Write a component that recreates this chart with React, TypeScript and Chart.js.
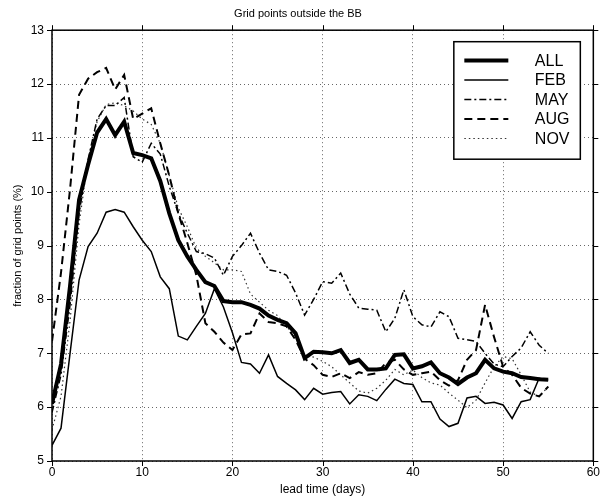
import React, { useEffect, useRef } from "react";
import { Chart, registerables } from "chart.js";

Chart.register(...registerables);

const days = [0,1,2,3,4,5,6,7,8,9,10,11,12,13,14,15,16,17,18,19,20,21,22,23,24,25,26,27,28,29,30,31,32,33,34,35,36,37,38,39,40,41,42,43,44,45,46,47,48,49,50,51,52,53,54,55];

const allSeries = [6.06,6.8,8.25,9.85,10.5,11.1,11.35,11.05,11.3,10.72,10.68,10.62,10.2,9.6,9.1,8.8,8.55,8.32,8.25,7.97,7.95,7.95,7.9,7.83,7.7,7.62,7.56,7.37,6.91,7.03,7.02,7.0,7.06,6.82,6.88,6.7,6.7,6.72,6.97,6.98,6.72,6.76,6.83,6.63,6.55,6.43,6.55,6.63,6.88,6.72,6.66,6.63,6.56,6.54,6.52,6.51];

const febSeries = [5.29,5.61,7.0,8.36,8.98,9.23,9.62,9.67,9.62,9.35,9.1,8.89,8.42,8.2,7.32,7.25,7.5,7.74,8.2,7.86,7.38,6.83,6.8,6.63,6.97,6.57,6.44,6.32,6.14,6.35,6.24,6.27,6.29,6.06,6.23,6.2,6.12,6.33,6.52,6.44,6.42,6.1,6.1,5.78,5.64,5.7,6.17,6.2,6.07,6.09,6.04,5.79,6.1,6.14,6.54,6.5];

const maySeries = [5.9,6.6,7.9,9.6,10.6,11.35,11.6,11.6,11.75,10.65,10.55,10.9,10.7,10.1,9.6,9.23,8.89,8.85,8.77,8.45,8.8,9.0,9.23,8.86,8.55,8.52,8.45,8.12,7.71,8.0,8.33,8.3,8.49,8.1,7.84,7.82,7.8,7.4,7.65,8.18,7.68,7.53,7.49,7.77,7.68,7.28,7.25,7.22,7.0,6.8,6.75,6.94,7.1,7.4,7.15,7.0];

const augSeries = [7.22,8.5,10.05,11.8,12.1,12.22,12.3,11.9,12.17,11.35,11.45,11.55,10.9,10.3,9.6,9.05,8.45,7.56,7.4,7.2,7.06,7.35,7.37,7.74,7.58,7.56,7.5,7.25,6.9,6.78,6.6,6.56,6.63,6.54,6.65,6.6,6.63,6.82,6.88,6.7,6.6,6.63,6.66,6.5,6.4,6.5,6.88,7.06,7.9,7.3,6.75,6.6,6.36,6.25,6.2,6.38];

const novSeries = [5.58,6.2,7.6,9.4,10.6,11.3,11.62,11.65,11.6,11.5,11.35,11.25,10.9,10.3,9.7,9.35,8.95,8.8,8.68,8.55,8.55,8.52,8.1,7.95,7.8,7.7,7.5,7.3,6.95,6.93,6.85,6.75,6.6,6.45,6.3,6.26,6.35,6.5,6.7,6.6,6.69,6.55,6.45,6.41,6.26,6.13,5.99,6.13,6.45,6.75,6.94,6.9,6.6,6.28,6.2,6.38];

const xTicks = [0, 10, 20, 30, 40, 50, 60];
const yTicks = [5, 6, 7, 8, 9, 10, 11, 12, 13];

const FONT = "'Liberation Sans', Arial, Helvetica, sans-serif";

function toPoints(vals: number[]) {
  return days.map((d, i) => ({ x: d, y: vals[i] }));
}

const framePlugin = {
  id: "frameTicks",
  afterDatasetsDraw(chart: any) {
    const { ctx, chartArea } = chart;
    const { left, right, top, bottom } = chartArea;
    const xs = chart.scales.x;
    const ys = chart.scales.y;
    ctx.save();
    ctx.setLineDash([]);
    ctx.strokeStyle = "#000";
    ctx.lineWidth = 1.5;
    ctx.strokeRect(left, top, right - left, bottom - top);
    ctx.lineWidth = 1;
    const tl = 5;
    ctx.beginPath();
    xTicks.forEach((t) => {
      const px = Math.round(xs.getPixelForValue(t)) + 0.5;
      ctx.moveTo(px, bottom);
      ctx.lineTo(px, bottom + tl);
      ctx.moveTo(px, top);
      ctx.lineTo(px, top - tl);
    });
    yTicks.forEach((t) => {
      const py = Math.round(ys.getPixelForValue(t)) + 0.5;
      ctx.moveTo(left, py);
      ctx.lineTo(left - tl, py);
      ctx.moveTo(right, py);
      ctx.lineTo(right + tl, py);
    });
    ctx.stroke();
    ctx.restore();
  },
};

const legendPlugin = {
  id: "boxLegend",
  afterDraw(chart: any) {
    const { ctx, chartArea } = chart;
    const x0 = chartArea.right - 139.5;
    const y0 = chartArea.top + 11.5;
    const w = 126.5;
    const h = 117.5;
    ctx.save();
    ctx.fillStyle = "#fff";
    ctx.fillRect(x0, y0, w, h);
    ctx.setLineDash([]);
    ctx.lineWidth = 1.5;
    ctx.strokeStyle = "#000";
    ctx.strokeRect(x0, y0, w, h);
    chart.data.datasets.forEach((ds: any, i: number) => {
      const y = y0 + 18.8 + i * 19.5;
      ctx.beginPath();
      ctx.setLineDash(ds.borderDash || []);
      ctx.lineWidth = ds.borderWidth;
      ctx.strokeStyle = ds.borderColor;
      ctx.moveTo(x0 + 10.5, y);
      ctx.lineTo(x0 + 54.5, y);
      ctx.stroke();
      ctx.setLineDash([]);
      ctx.fillStyle = "#000";
      ctx.font = `16px ${FONT}`;
      ctx.textBaseline = "middle";
      ctx.textAlign = "left";
      ctx.fillText(ds.label, x0 + 81, y + 1);
    });
    ctx.restore();
  },
};

export default function App() {
  const ref = useRef<HTMLCanvasElement | null>(null);

  useEffect(() => {
    if (!ref.current) return;
    Chart.defaults.font.family = FONT;
    Chart.defaults.color = "#000";
    const common = { pointRadius: 0, tension: 0, fill: false, borderJoinStyle: "miter" as const };
    const chart = new Chart(ref.current, {
      type: "line",
      data: {
        datasets: [
          { label: "ALL", data: toPoints(allSeries), borderColor: "#000", borderWidth: 4, ...common },
          { label: "FEB", data: toPoints(febSeries), borderColor: "#000", borderWidth: 1.5, ...common },
          { label: "MAY", data: toPoints(maySeries), borderColor: "#000", borderWidth: 1.5, borderDash: [7, 3, 2, 3], ...common },
          { label: "AUG", data: toPoints(augSeries), borderColor: "#000", borderWidth: 2, borderDash: [8, 5], ...common },
          { label: "NOV", data: toPoints(novSeries), borderColor: "#333", borderWidth: 1.2, borderDash: [1.5, 3], ...common },
        ],
      },
      options: {
        animation: false,
        responsive: false,
        maintainAspectRatio: false,
        layout: { padding: { left: 0, right: 8, top: 0, bottom: 0 } },
        plugins: {
          legend: { display: false },
          tooltip: { enabled: false },
          title: {
            display: true,
            text: "Grid points outside the BB",
            color: "#000",
            font: { size: 11, weight: "normal", family: FONT },
            padding: { top: 7, bottom: 10 },
          },
        },
        scales: {
          x: {
            type: "linear",
            min: 0,
            max: 60,
            afterBuildTicks: (s: any) => {
              s.ticks = xTicks.map((v) => ({ value: v }));
            },
            afterFit: (s: any) => {
              s.height = 37;
            },
            ticks: { font: { size: 12, family: FONT }, padding: 4, color: "#000", maxRotation: 0 },
            grid: { color: "#666", lineWidth: 1, drawTicks: false },
            border: { display: false, dash: [1, 3] },
            title: {
              display: true,
              text: "lead time (days)",
              color: "#000",
              font: { size: 12, family: FONT },
              padding: { top: 0, bottom: 1 },
            },
          },
          y: {
            type: "linear",
            min: 5,
            max: 13,
            afterBuildTicks: (s: any) => {
              s.ticks = yTicks.map((v) => ({ value: v }));
            },
            afterFit: (s: any) => {
              s.width = 52;
            },
            ticks: { font: { size: 12, family: FONT }, padding: 8, color: "#000" },
            grid: { color: "#666", lineWidth: 1, drawTicks: false },
            border: { display: false, dash: [1, 3] },
            title: {
              display: true,
              text: "fraction of grid points (%)",
              color: "#000",
              font: { size: 11, family: FONT },
              padding: { top: 11, bottom: 0 },
            },
          },
        },
      },
      plugins: [framePlugin, legendPlugin],
    });
    return () => chart.destroy();
  }, []);

  return (
    <div style={{ position: "fixed", left: 0, top: 0, width: 604, height: 498, background: "#fff" }}>
      <canvas ref={ref} width={604} height={498} style={{ width: 604, height: 498 }} />
    </div>
  );
}
